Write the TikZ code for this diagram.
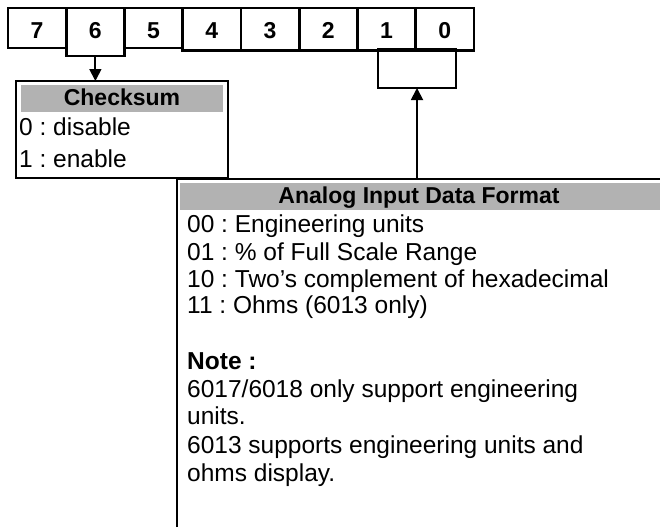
\documentclass[tikz,border=0pt]{standalone}
\usepackage{fontspec}
\setmainfont{Liberation Sans}
\usetikzlibrary{arrows.meta}
\definecolor{hdrgray}{RGB}{178,178,178}
\frenchspacing

\begin{document}
\begin{tikzpicture}[x=1pt,y=-1pt,
  cell/.style={draw,line width=2.6pt,inner sep=0,outer sep=0,minimum width=58.25pt,anchor=north west},
  bit/.style={font=\fontsize{23}{27}\selectfont\bfseries,anchor=base,inner sep=0},
  txt/.style={font=\fontsize{24.5}{28}\selectfont,anchor=base west,inner sep=0},
  hdr/.style={font=\fontsize{23}{28}\selectfont\bfseries,anchor=base,inner sep=0},
  conn/.style={line width=1.8pt,-{Triangle[length=12pt,width=12pt]}}]

	\useasboundingbox (0,0) rectangle (660,527);

  %bracket under bits 1 and 0
	\node[cell,minimum width=78pt,minimum height=39pt] (fmt) at (378,49) {};

  %bit cells
	\foreach \b/\h [count=\i from 0] in {7/40,6/48,5/40,4/42.5,3/42.5,2/42.5,1/42.5,0/42.5}
	{
		\node[cell,minimum height=\h pt] (b\b) at ({8+58.25*\i},8) {};
		\node[bit] (n\b) at ([yshift=-30pt]b\b.north) {\b};
	}

  %checksum box
	\node[cell,minimum width=212pt,minimum height=97pt] (cs) at (16,81) {};
	\fill[hdrgray] (21,85) rectangle (223,112);
	\node[hdr] (cshdr) at (122,105) {Checksum};
	\node[txt] (cs0) at (19,135) {0 : disable};
	\node[txt] (cs1) at (19,167) {1 : enable};

  %data format box
	\fill[hdrgray] (180,183) rectangle (660,210);
	\draw[line width=2.6pt] (177,527) -- (177,179) -- (660,179);
	\node[hdr] (fmthdr) at (419,203) {Analog Input Data Format};
	\node[txt] (f00) at (187,232) {00 : Engineering units};
	\node[txt] (f01) at (187,260) {01 : \% of Full Scale Range};
	\node[txt] (f10) at (187,287) {10 : Two's complement of hexadecimal};
	\node[txt] (f11) at (187,313) {11 : Ohms (6013 only)};
	\node[txt,font=\fontsize{24.5}{28}\selectfont\bfseries] (note) at (187,369) {Note :};
	\node[txt] (note1) at (187,397) {6017/6018 only support engineering};
	\node[txt] (note2) at (187,424) {units.};
	\node[txt] (note3) at (187,453) {6013 supports engineering units and};
	\node[txt] (note4) at (187,481) {ohms display.};

  %arrows
	\draw[conn] (b6.south) -- (b6.south |- cs.north);
	\coordinate (tap) at (fmt.south |- 0,179);
	\draw[conn] (tap) -- (fmt.south);

\end{tikzpicture}
\end{document}
